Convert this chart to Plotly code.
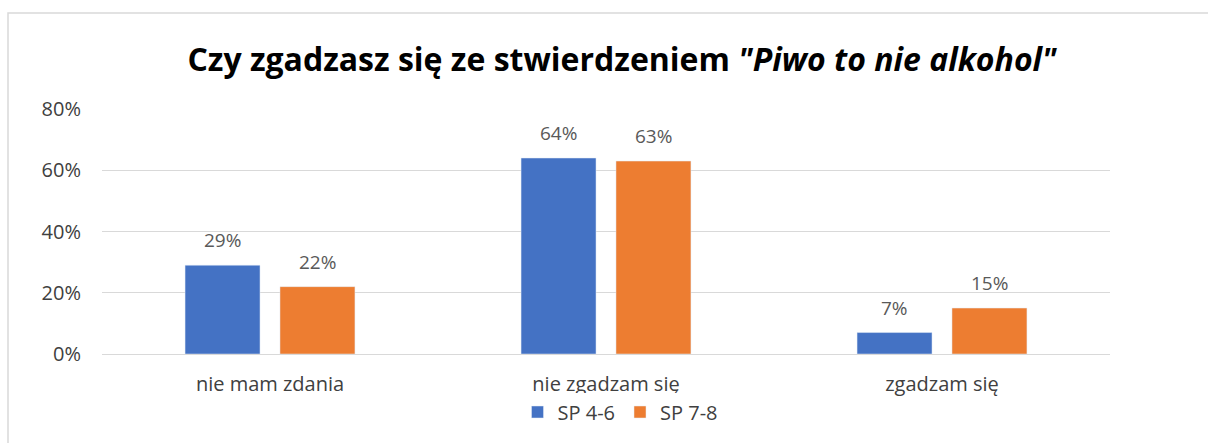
import plotly.graph_objects as go

categories = ["nie mam zdania", "nie zgadzam się", "zgadzam się"]
sp46 = [0.29, 0.64, 0.07]
sp78 = [0.22, 0.63, 0.15]
labels46 = ["29%", "64%", "7%"]
labels78 = ["22%", "63%", "15%"]

W, H = 1208, 443
L, R, T, B = 102, 98, 109, 89
pw, ph = W - L - R, H - T - B
FONT = "Open Sans, Noto Sans, sans-serif"

fig = go.Figure()
fig.add_trace(go.Bar(name="SP 4-6", x=categories, y=sp46, marker_color="#4472C4"))
fig.add_trace(go.Bar(name="SP 7-8", x=categories, y=sp78, marker_color="#ED7D31"))

annotations = []
for vals, labs, shift in ((sp46, labels46, -47.5), (sp78, labels78, 47.5)):
    for c, v, t in zip(categories, vals, labs):
        annotations.append(dict(x=c, y=v, xref="x", yref="y", text=t, showarrow=False,
                                xshift=shift, yshift=10, yanchor="bottom",
                                font=dict(size=19, color="#595959", family=FONT)))

def px_x(x):
    return (x - L) / pw

def px_y(y):
    return (H - B - y) / ph

fig.update_layout(
    width=W, height=H,
    margin=dict(l=L, r=R, t=T, b=B, autoexpand=False),
    paper_bgcolor="white", plot_bgcolor="white",
    font=dict(family=FONT, color="#595959", size=19),
    title=dict(text="Czy zgadzasz się ze stwierdzeniem <i>\"Piwo to nie alkohol\"</i>",
               x=px_x(622), xref="paper", xanchor="center",
               y=1 - 60 / H, yanchor="middle",
               font=dict(size=32, color="black", family=FONT, weight="bold")),
    barmode="group", bargap=0.435, bargroupgap=0.21,
    xaxis=dict(showgrid=False, showline=True, linecolor="#d9d9d9", linewidth=1,
               ticks="", tickfont=dict(size=20, color="#404040"), ticklabelstandoff=12),
    yaxis=dict(range=[0, 0.8], dtick=0.2, tickformat=".0%", showgrid=True,
               gridcolor="#d9d9d9", gridwidth=1, zeroline=False, ticks="",
               tickfont=dict(size=20, color="#404040"), ticklabelstandoff=20),
    legend=dict(orientation="h", x=px_x(620), xanchor="center", y=px_y(412), yanchor="middle",
                font=dict(size=20, color="#404040"), traceorder="normal",
                itemwidth=30, tracegroupgap=0),
    showlegend=True,
    annotations=annotations,
    shapes=[dict(type="rect", xref="paper", yref="paper",
                 x0=px_x(8), x1=px_x(1215), y0=px_y(450), y1=px_y(13),
                 line=dict(color="#d9d9d9", width=1.5), fillcolor="rgba(0,0,0,0)", layer="below")],
)

fig.write_html("out.html", config={"displayModeBar": False},
               post_script="document.body.style.margin='0';document.body.style.overflow='hidden';")
